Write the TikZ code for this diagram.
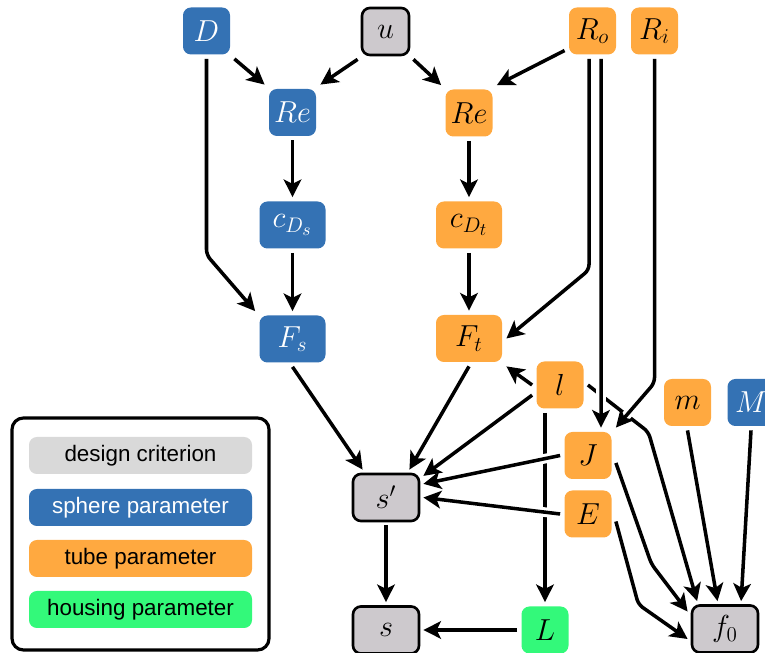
\documentclass[tikz,border=0pt]{standalone}
\usepackage{fontspec}
\setsansfont{Liberation Sans}
\usepackage{amsmath}
\usepackage{amssymb}
\usepackage{tikz}
\usetikzlibrary{calc,arrows.meta,positioning,shapes}

\definecolor{sphere}{HTML}{3472B4}
\definecolor{tube}{HTML}{FFA940}
\definecolor{housing}{HTML}{33F97A}
\definecolor{critgray}{HTML}{CDC9CD}
\definecolor{keygray}{HTML}{D9D9D9}

\begin{document}
\begin{tikzpicture}[par/.style={rounded corners=4.5pt, minimum width=0.94cm, minimum height=0.94cm, inner sep=2pt, outer sep=2.5pt, font=\LARGE},
	sph/.style={par, fill=sphere, text=white},
	tub/.style={par, fill=tube},
	hou/.style={par, fill=housing},
	crit/.style={par, fill=critgray, draw, line width=1.5pt},
	wide/.style={minimum width=1.32cm},
	key/.style={rounded corners=4.5pt, minimum width=4.46cm, minimum height=0.74cm, font=\fontsize{12.75}{15}\selectfont\sffamily},
	link/.style={->, line width=2pt},
	over/.style={preaction={draw, -, white, line width=5.5pt}},
	>={Stealth[length=10pt, width=10pt, inset=2.5pt]}]
	\useasboundingbox (0cm,0cm) rectangle (15.3cm,13.06cm);

	\node (D) [sph] at (4.13cm, 12.44cm) {$D$};
	\node (u) [crit] at (7.71cm, 12.43cm) {$u$};
	\node (Ro) [tub] at (11.85cm, 12.44cm) {$R_o$};
	\node (Ri) [tub] at (13.09cm, 12.44cm) {$R_i$};
	\node (ReS) [sph] at (5.85cm, 10.81cm) {$Re$};
	\node (ReT) [tub] at (9.38cm, 10.80cm) {$Re$};
	\node (cDs) [sph, wide] at (5.85cm, 8.56cm) {$c_{D_s}$};
	\node (cDt) [tub, wide] at (9.38cm, 8.56cm) {$c_{D_t}$};
	\node (Fs) [sph, wide] at (5.85cm, 6.28cm) {$F_s$};
	\node (Ft) [tub, wide] at (9.38cm, 6.29cm) {$F_t$};
	\node (l) [tub] at (11.2cm, 5.36cm) {$l$};
	\node (m) [tub] at (13.75cm, 5.01cm) {$m$};
	\node (M) [sph] at (15.02cm, 5.01cm) {$M$};
	\node (J) [tub] at (11.76cm, 3.95cm) {$J$};
	\node (E) [tub] at (11.76cm, 2.78cm) {$E$};
	\node (sp) [crit, wide] at (7.72cm, 3.11cm) {$s'$};
	\node (s) [crit, wide] at (7.72cm, 0.46cm) {$s$};
	\node (L) [hou] at (10.9cm, 0.46cm) {$L$};
	\node (f0) [crit, wide] at (14.5cm, 0.48cm) {$f_0$};

	% legend
	\draw [line width=1.8pt, rounded corners=6.5pt] (0.24cm, 0.06cm) rectangle (5.38cm, 4.70cm);
	\node (kcrit) [key, fill=keygray] at (2.81cm, 3.95cm) {design criterion};
	\node (ksph) [key, fill=sphere, text=white] at (2.81cm, 2.91cm) {sphere parameter};
	\node (ktub) [key, fill=tube] at (2.81cm, 1.89cm) {tube parameter};
	\node (khou) [key, fill=housing] at (2.81cm, 0.87cm) {housing parameter};

	\draw [link] (D.south east) -- (ReS.north west);
	\draw [link] (u.south west) -- (ReS.north east);
	\draw [link] (u.south east) -- (ReT.north west);
	\draw [link] (Ro.-145) -- (ReT.north east);
	\draw [link, rounded corners=3pt] (D.south) -- ++(0cm,-3.92cm) -- (Fs.north west);
	\draw [link] (ReS) -- (cDs);
	\draw [link] (ReT) -- (cDt);
	\draw [link] (cDs) -- (Fs);
	\draw [link] (cDt) -- (Ft);
	\draw [link, rounded corners=3pt] ([xshift=-0.07cm]Ro.south) -- ++(0cm,-4.22cm) -- (Ft.east);

	\draw [link] (l.west) -- (Ft.south east);
	\draw [link] (l.-160) -- (sp.30);
	\draw [link] (Ft.south) -- (sp.50);
	\draw [link] (Fs.south) -- (sp.130);
	\draw [link] (l.south -| L.north) -- (L.north);
	\draw [link, rounded corners=3pt] (l.east) -- ++(1.21cm,-0.94cm) -- (f0.135);
	\draw [link, rounded corners=3pt] (J.-15) -- ++(0.71cm,-2.02cm) -- (f0.155);
	\draw [link, rounded corners=3pt] (E.-15) -- ++(0.45cm,-1.66cm) -- (f0.195);
	\draw [link] (m.south) -- (f0.105);
	\draw [link] (M.south) -- (f0.60);
	\draw [link] (sp) -- (s);
	\draw [link] (L) -- (s);

	% lines drawn over others
	\draw [link, over] ([xshift=0.17cm]Ro.south) -- ([xshift=0.26cm]J.north);
	\draw [link, over, rounded corners=3pt] (Ri.south) -- ++(0cm,-6.48cm) -- (J.north east);
	\draw [link, over] (J.west) -- (sp.20);
	\draw [link, over] (E.west) -- (sp.east);
\end{tikzpicture}
\end{document}
